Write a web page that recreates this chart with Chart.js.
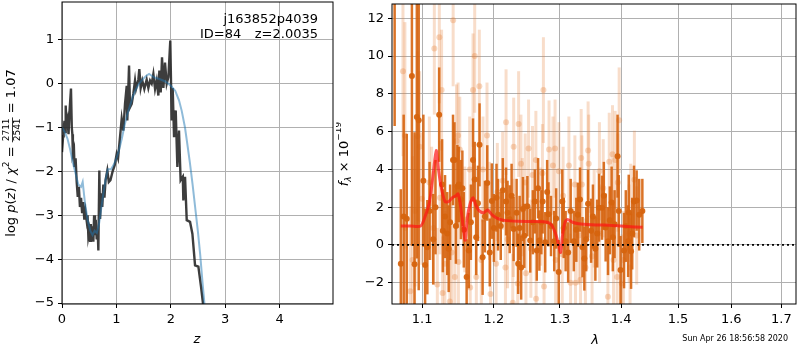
<!DOCTYPE html>
<html>
<head>
<meta charset="utf-8">
<script src="https://cdn.jsdelivr.net/npm/chart.js@4.4.0/dist/chart.umd.min.js"></script>
<style>
  body { margin: 0; background: #fff; }
  #wrap { position: relative; width: 800px; height: 350px; }
  canvas { position: absolute; top: 0; }
</style>
</head>
<body>
<div id="wrap">
  <canvas id="pzChart" width="336" height="350" style="left:0"></canvas>
  <canvas id="specChart" width="464" height="350" style="left:336px"></canvas>
</div>
<script>
// ---- left panel: log p(z) ----
const zTicks = [0, 1, 2, 3, 4];
const pzTicks = [-5, -4, -3, -2, -1, 0, 1];

const zFine = [0.00, 0.02, 0.03, 0.045, 0.06, 0.068, 0.08, 0.10, 0.12, 0.14, 0.165, 0.18, 0.19, 0.20, 0.22, 0.23, 0.25, 0.27, 0.29, 0.31,
  0.33, 0.35, 0.37, 0.39, 0.41, 0.43, 0.454, 0.47, 0.484, 0.50, 0.515, 0.53, 0.545, 0.56, 0.576, 0.59, 0.606, 0.62, 0.638, 0.655,
  0.668, 0.686, 0.70, 0.72, 0.74, 0.76, 0.78, 0.80, 0.833, 0.86, 0.89, 0.93, 0.97, 1.005, 1.03, 1.066, 1.097, 1.127, 1.158, 1.189,
  1.20, 1.232, 1.25, 1.281, 1.311, 1.342, 1.36, 1.403, 1.421, 1.446, 1.476, 1.513, 1.556, 1.587, 1.618, 1.648, 1.679, 1.71, 1.74, 1.771,
  1.789, 1.814, 1.838, 1.863, 1.893, 1.924, 1.955, 1.99, 2.016, 2.034, 2.059, 2.09, 2.12, 2.15, 2.18, 2.22, 2.23, 2.261, 2.292, 2.353,
  2.396, 2.445, 2.506, 2.555, 2.598, 2.68];
const pzFine = [-1.56, -1.2, -1.05, -0.85, -1.1, -0.5, -0.9, -0.8, -1.15, -0.6, -0.11, -1.0, -1.15, -1.6, -1.5, -1.9, -1.7, -2.24, -2.58, -2.35,
  -2.81, -2.6, -2.95, -2.7, -3.1, -2.9, -3.13, -3.0, -3.47, -3.35, -3.58, -3.2, -3.6, -3.25, -3.6, -3.0, -3.45, -3.1, -3.55, -3.3,
  -3.8, -1.98, -3.08, -2.5, -2.81, -2.3, -2.6, -2.2, -1.98, -2.24, -2.2, -2.0, -1.85, -1.6, -1.7, -1.22, -0.8, -1.07, -0.46, -0.05,
  -0.84, 0.41, -0.54, -0.46, -0.23, 0.07, -0.12, 0.09, 0.33, -0.1, 0.07, -0.12, 0.09, -0.1, 0.07, 0.0, 0.22, -0.12, 0.07, -0.27,
  0.3, -0.2, 0.6, -0.1, 0.48, 0.0, 0.15, 0.98, -0.84, -0.1, -1.22, -0.61, -1.9, -1.07, -2.2, -2.12, -2.66, -2.12, -3.11, -3.15,
  -3.42, -4.14, -4.17, -4.63, -5.08, -5.8];

const zSmooth = [0.00, 0.05, 0.10, 0.15, 0.20, 0.25, 0.30, 0.35, 0.38, 0.42, 0.47, 0.52, 0.56, 0.60, 0.64, 0.68, 0.72, 0.76, 0.80, 0.84,
  0.90, 0.95, 1.00, 1.05, 1.10, 1.15, 1.20, 1.25, 1.30, 1.35, 1.40, 1.45, 1.50, 1.55, 1.60, 1.65, 1.70, 1.80, 1.90, 2.00,
  2.08, 2.15, 2.20, 2.26, 2.30, 2.35, 2.40, 2.45, 2.50, 2.54, 2.58, 2.62, 2.66];
const pzSmooth = [-1.0, -1.1, -1.25, -1.5, -1.8, -2.05, -2.3, -2.35, -2.24, -2.7, -3.1, -3.35, -3.45, -3.35, -3.4, -3.2, -2.85, -2.5, -2.2, -1.95,
  -1.95, -1.85, -1.7, -1.5, -1.25, -0.95, -0.7, -0.5, -0.3, -0.15, -0.03, 0.05, 0.12, 0.18, 0.22, 0.18, 0.14, 0.1, 0.05, -0.05,
  -0.16, -0.38, -0.62, -1.0, -1.35, -1.8, -2.3, -2.85, -3.4, -3.9, -4.5, -5.05, -5.6];

// ---- right panel: spectrum ----
const waveTicks = [1.1, 1.2, 1.3, 1.4, 1.5, 1.6, 1.7];
const fluxTicks = [-2, 0, 2, 4, 6, 8, 10, 12];

const darkWave = [1.064, 1.0757, 1.072, 1.0797, 1.0865, 1.090, 1.093, 1.0955, 1.1017, 1.104, 1.107, 1.110, 1.123, 1.127, 1.128, 1.134, 1.136, 1.138,
  1.142, 1.144, 1.148, 1.150, 1.153, 1.157, 1.161, 1.164, 1.170, 1.1724, 1.1745, 1.1793, 1.1837, 1.1904, 1.194, 1.197, 1.2038, 1.206,
  1.213, 1.2178, 1.220, 1.2232, 1.229, 1.2335, 1.2358, 1.2403, 1.245, 1.2497, 1.254, 1.261, 1.266, 1.268, 1.273, 1.277, 1.282, 1.286,
  1.291, 1.298, 1.3037, 1.309, 1.317, 1.322, 1.3285, 1.336, 1.339, 1.345, 1.350, 1.357, 1.363, 1.368, 1.374, 1.378, 1.381, 1.384,
  1.389, 1.394, 1.399, 1.405, 1.412, 1.413, 1.417, 1.422, 1.4266, 1.431, 1.4365,
  1.115, 1.118, 1.131, 1.146, 1.155, 1.167, 1.177, 1.187, 1.200, 1.210, 1.226, 1.238, 1.243, 1.258, 1.264, 1.271, 1.280, 1.294,
  1.306, 1.313, 1.326, 1.332, 1.342, 1.353, 1.360, 1.371, 1.386, 1.396, 1.408, 1.419];
const darkFlux = [16.0, 1.5, -1.0, 1.38, 8.95, -1.03, 6.78, 6.6, 3.4, -1.07, -0.12, 1.8, 6.9, 3.2, 0.75, 0.6, -0.2, 1.2,
  4.5, 4.5, 3.1, 3.2, 2.4, 0.8, -1.7, -0.3, 4.5, 3.46, 0.4, 5.3, -0.65, 3.28, -0.4, 2.32, 2.5, 1.6,
  2.9, 2.3, 1.7, 1.36, 0.84, 1.7, -1.0, -1.2, 0.48, 2.05, 0.23, 2.3, 3.0, 0.23, 2.3, 0.14, 1.62, 1.0,
  0.2, -1.44, 2.3, 0.2, 1.8, 0.2, 1.6, -0.12, -0.72, 2.18, 0.75, -0.2, 1.97, 1.97, 0.92, 0.2, 1.3, 2.25,
  1.1, 4.7, -1.33, -0.3, 0.2, 1.72, -0.33, 2.3, 2.35, 1.6, 1.8,
  0.3, 2.0, 1.5, 1.0, 3.0, 1.2, 2.2, 1.5, 0.9, 1.0, 2.6, 0.9, 1.9, 1.2, -0.3, 1.2, 2.8, 1.4,
  0.9, -0.4, 0.8, 2.4, 0.3, 1.5, 0.6, 2.6, 0.4, 1.8, 1.0, 0.6];
const darkErr = [9.7, 5.4, 3.95, 4.5, 9.0, 7.0, 7.5, 9.0, 3.5, 3.0, 2.5, 2.6, 2.5, 2.4, 2.2, 2.2, 2.3, 2.0,
  2.4, 2.0, 2.2, 2.0, 2.1, 2.0, 2.0, 2.0, 2.2, 2.0, 2.0, 2.2, 2.0, 2.0, 1.8, 2.0, 1.8, 1.9,
  1.7, 1.8, 1.7, 1.8, 1.7, 1.8, 1.6, 1.7, 1.7, 1.6, 1.7, 1.7, 1.6, 1.6, 1.7, 1.6, 1.7, 1.6,
  1.6, 1.7, 1.7, 1.6, 1.7, 1.6, 1.7, 1.6, 1.7, 1.8, 1.7, 1.7, 1.8, 1.7, 1.8, 1.8, 1.8, 1.9,
  1.8, 2.2, 1.8, 2.0, 1.9, 2.0, 2.0, 1.9, 1.6, 1.9, 1.7,
  2.4, 2.5, 2.2, 2.0, 2.0, 2.0, 2.0, 1.9, 1.8, 1.8, 1.7, 1.7, 1.7, 1.7, 1.6, 1.7, 1.7, 1.6,
  1.6, 1.6, 1.7, 1.7, 1.7, 1.7, 1.8, 1.8, 1.8, 1.9, 1.9, 1.9];

const lightWave = [1.0748, 1.0773, 1.0778, 1.0843, 1.0873, 1.0908, 1.0938, 1.0967, 1.0996, 1.1097, 1.1128, 1.1151, 1.1164, 1.1205, 1.1232, 1.1241,
  1.1263, 1.1277, 1.1308, 1.1376, 1.14, 1.1422, 1.1445, 1.1468, 1.149, 1.1495, 1.1514, 1.1584, 1.1653, 1.166, 1.170, 1.1724,
  1.1747, 1.179, 1.1818, 1.1842, 1.19, 1.1937, 1.1951, 1.2032, 1.205, 1.2128, 1.2169, 1.2178, 1.22, 1.2277, 1.2286, 1.2291,
  1.2351, 1.2365, 1.24, 1.242, 1.2464, 1.2475, 1.2515, 1.255, 1.2575, 1.2626, 1.263, 1.27, 1.2727, 1.2742, 1.2752, 1.2829,
  1.289, 1.2923, 1.2932, 1.2984, 1.3036, 1.305, 1.3142, 1.3168, 1.3237, 1.3247, 1.33, 1.3328, 1.3339, 1.335, 1.3408, 1.3451,
  1.3461, 1.3516, 1.355, 1.3637, 1.364, 1.37, 1.3778, 1.38, 1.3855, 1.3872, 1.39, 1.3933, 1.3944, 1.3967, 1.4011, 1.404,
  1.4136, 1.4153, 1.4164, 1.4227, 1.4267];
const lightFlux = [9.2, 5.8, 0.9, -2.45, -0.8, 1.8, 5.75, 5.2, 2.45, 3.3, 2.2, 0.9, 10.4, -2.1, 11.0, 2.5,
  8.2, -2.55, -1.0, -3.0, -0.4, 11.9, -1.7, 5.5, 5.8, -0.9, 5.05, 1.35, 4.0, -2.25, 8.2, 10.0,
  -1.7, 8.4, -0.8, 4.0, 5.8, 1.8, -2.6, -1.0, 2.8, 3.4, -1.2, 6.5, 0.3, -3.07, 0.9, 5.2,
  -2.05, 6.4, 4.3, 2.0, 3.3, -1.5, 5.1, -0.2, 3.7, 4.5, -2.85, 1.5, 3.8, 8.2, -2.2, 5.05,
  4.2, 5.1, -0.8, 3.9, -0.5, 2.6, 4.2, -2.0, 3.2, -2.0, 0.5, -1.85, 4.6, 3.2, -1.2, 5.0,
  4.3, -0.6, 1.4, 3.9, 0.6, 3.0, -2.75, 4.4, 4.8, -0.8, 4.5, -1.7, 3.3, 6.6, -2.05, -0.8,
  0.6, -1.2, 1.7, 3.45, 0.5];
const lightErr = [4.5, 6.0, 5.0, 4.5, 5.5, 4.0, 4.5, 4.0, 3.5, 3.5, 3.0, 3.0, 3.5, 3.0, 3.5, 3.0,
  3.2, 3.0, 2.8, 2.8, 2.8, 3.5, 2.8, 3.0, 2.8, 2.8, 2.8, 2.8, 2.8, 2.8, 3.0, 3.0,
  2.8, 3.0, 2.8, 2.8, 2.8, 2.6, 2.6, 2.6, 2.6, 2.6, 2.6, 2.8, 2.6, 2.6, 2.6, 2.6,
  2.6, 2.8, 2.6, 2.6, 2.6, 2.6, 2.6, 2.6, 2.6, 2.6, 2.6, 2.6, 2.6, 2.8, 2.6, 2.6,
  2.6, 2.6, 2.6, 2.6, 2.6, 2.6, 2.6, 2.6, 2.6, 2.6, 2.6, 2.6, 2.6, 2.6, 2.6, 2.6,
  2.6, 2.6, 2.6, 2.6, 2.6, 2.6, 2.6, 2.6, 2.6, 2.6, 2.6, 2.6, 2.6, 2.8, 2.6, 2.6,
  2.6, 2.6, 2.6, 2.6, 2.6];

const modelWave = [1.072, 1.085, 1.098, 1.104, 1.11, 1.115, 1.119, 1.122, 1.126, 1.131, 1.136, 1.141, 1.146, 1.149, 1.152, 1.156, 1.159, 1.162,
  1.166, 1.17, 1.174, 1.179, 1.185, 1.191, 1.197, 1.205, 1.215, 1.235, 1.26, 1.28, 1.287, 1.293, 1.298, 1.301, 1.304, 1.308,
  1.312, 1.32, 1.33, 1.35, 1.37, 1.39, 1.41, 1.437];
const modelFlux = [1.0, 1.0, 1.0, 1.5, 2.3, 3.8, 5.0, 4.0, 3.0, 2.3, 2.3, 2.5, 2.6, 2.7, 2.2, 1.0, 0.25, 1.45,
  2.2, 2.5, 2.1, 1.8, 1.7, 1.85, 1.6, 1.4, 1.3, 1.25, 1.24, 1.2, 1.05, 0.6, 0.0, -0.4, 0.5, 1.2,
  1.35, 1.2, 1.12, 1.07, 1.05, 1.02, 0.98, 0.93];

const waveMin = 1.0606, waveMax = 1.7305;

Chart.defaults.font.family = '"DejaVu Sans", sans-serif';
Chart.defaults.font.size = 13;
Chart.defaults.color = '#000';

const toPoints = (xs, ys) => xs.map((x, i) => ({ x: x, y: ys[i] }));
const minus = v => String(v).replace('-', '\u2212');

// vertical error bars, drawn just before each dataset's markers
const errorBars = {
  id: 'errorBars',
  beforeDatasetDraw(chart, args) {
    const ds = chart.data.datasets[args.index];
    if (!ds.errs) return;
    const { ctx, chartArea: a, scales: { x, y } } = chart;
    ctx.save();
    ctx.beginPath();
    ctx.rect(a.left, a.top, a.right - a.left, a.bottom - a.top);
    ctx.clip();
    ctx.strokeStyle = ds.errColor;
    ctx.lineWidth = ds.errWidth;
    ds.data.forEach((p, i) => {
      const px = x.getPixelForValue(p.x);
      ctx.beginPath();
      ctx.moveTo(px, y.getPixelForValue(p.y - ds.errs[i]));
      ctx.lineTo(px, y.getPixelForValue(p.y + ds.errs[i]));
      ctx.stroke();
    });
    ctx.restore();
  }
};

const frame = {
  id: 'frame',
  afterDraw(chart) {
    const { ctx, chartArea: a } = chart;
    ctx.save();
    ctx.strokeStyle = '#000';
    ctx.lineWidth = 1;
    ctx.strokeRect(a.left, a.top, a.right - a.left, a.bottom - a.top);
    ctx.restore();
  }
};

// draw a row of mixed-style text pieces centred on (cx, cy)
function drawPieces(ctx, pieces, cx, cy, rotate) {
  ctx.save();
  ctx.translate(cx, cy);
  if (rotate) ctx.rotate(-Math.PI / 2);
  ctx.fillStyle = '#000';
  ctx.textBaseline = 'middle';
  let total = 0;
  pieces.forEach(p => {
    ctx.font = p.font;
    p.w = p.frac ? Math.max(ctx.measureText(p.frac[0]).width, ctx.measureText(p.frac[1]).width) + 2
                 : ctx.measureText(p.text).width;
    total += p.w;
  });
  let xx = -total / 2;
  pieces.forEach(p => {
    ctx.font = p.font;
    if (p.frac) {
      ctx.textAlign = 'center';
      ctx.fillText(p.frac[0], xx + p.w / 2, -5);
      ctx.fillText(p.frac[1], xx + p.w / 2, 5.5);
      ctx.fillRect(xx, 0, p.w, 0.8);
    } else {
      ctx.textAlign = 'left';
      ctx.fillText(p.text, xx, p.dy || 0);
    }
    xx += p.w;
  });
  ctx.restore();
}

const F = '13px "DejaVu Sans"';
const FI = 'italic 13px "DejaVu Sans"';
const FS = '9px "DejaVu Sans"';

const pzLabels = {
  id: 'pzLabels',
  afterDraw(chart) {
    const ctx = chart.ctx;
    drawPieces(ctx, [
      { text: 'log ', font: F }, { text: 'p', font: FI }, { text: '(', font: F }, { text: 'z', font: FI },
      { text: ') / ', font: F }, { text: '\u03c7', font: FI }, { text: '2', font: FS, dy: -5 },
      { text: ' = ', font: F }, { frac: ['2711', '2541'], font: FS }, { text: ' = 1.07', font: F }
    ], 12, 153, true);
    drawPieces(ctx, [{ text: 'z', font: FI }], 197, 340, false);
    ctx.save();
    ctx.font = F;
    ctx.textBaseline = 'middle';
    ctx.textAlign = 'right';
    ctx.fillText('j163852p4039', 318, 20);
    ctx.fillText('z=2.0035', 318, 35);
    ctx.textAlign = 'left';
    ctx.fillText('ID=84', 200, 35);
    ctx.restore();
  }
};

const specLabels = {
  id: 'specLabels',
  afterDraw(chart) {
    const ctx = chart.ctx;
    drawPieces(ctx, [
      { text: 'f', font: FI }, { text: '\u03bb', font: 'italic 9px "DejaVu Sans"', dy: 4 },
      { text: ' \u00d7 10', font: F }, { text: '\u221219', font: FS, dy: -6 }
    ], 9, 154, true);
    drawPieces(ctx, [{ text: '\u03bb', font: FI }], 259, 341, false);
    ctx.save();
    ctx.font = '8px "DejaVu Sans"';
    ctx.textBaseline = 'middle';
    ctx.textAlign = 'right';
    ctx.fillText('Sun Apr 26 18:56:58 2020', 452, 339);
    ctx.restore();
  }
};

function axisOpts(extra, ticks, fmt, size) {
  return Object.assign({
    afterBuildTicks: s => { s.ticks = ticks.map(v => ({ value: v })); },
    afterFit: s => {
      if (s.isHorizontal()) { s.height = size; s.paddingLeft = 0; s.paddingRight = 0; }
      else { s.width = size; s.paddingTop = 0; s.paddingBottom = 0; }
    },
    grid: { color: '#b0b0b0', lineWidth: 1, tickColor: '#000', tickLength: 4 },
    border: { display: false },
    ticks: { callback: fmt, padding: 4, autoSkip: false, maxRotation: 0, color: '#000' }
  }, extra);
}

const commonOpts = {
  responsive: false,
  animation: false,
  devicePixelRatio: 1,
  plugins: { legend: { display: false }, tooltip: { enabled: false } }
};

new Chart(document.getElementById('pzChart'), {
  type: 'scatter',
  data: {
    datasets: [
      { data: toPoints(zSmooth, pzSmooth), showLine: true, pointRadius: 0, borderColor: 'rgba(31,119,180,0.5)',
        borderWidth: 2, clip: 0, order: 0 },
      { data: toPoints(zFine, pzFine), showLine: true, pointRadius: 0, borderColor: 'rgba(40,40,40,0.9)',
        borderWidth: 2.4, clip: 0, order: 1 }
    ]
  },
  options: Object.assign({}, commonOpts, {
    layout: { padding: { top: 2, right: 3, left: 0, bottom: 0 } },
    scales: {
      x: axisOpts({ type: 'linear', min: 0, max: 4.98 }, zTicks, v => minus(v), 46),
      y: axisOpts({ type: 'linear', min: -5.02, max: 1.86 }, pzTicks, v => minus(v), 62)
    }
  }),
  plugins: [frame, pzLabels]
});

new Chart(document.getElementById('specChart'), {
  type: 'scatter',
  data: {
    datasets: [
      { data: [{ x: waveMin, y: 0 }, { x: waveMax, y: 0 }], showLine: true, pointRadius: 0, borderColor: '#000',
        borderWidth: 1.8, borderDash: [2, 3], clip: 0, order: 0 },
      { data: toPoints(modelWave, modelFlux), showLine: true, pointRadius: 0, borderColor: 'rgba(255,20,20,0.7)',
        borderWidth: 3, tension: 0.25, clip: 0, order: 1 },
      { data: toPoints(darkWave, darkFlux), errs: darkErr, errColor: 'rgba(214,100,15,0.9)', errWidth: 2.5,
        pointRadius: 3, pointBorderWidth: 0, pointBackgroundColor: 'rgba(214,100,15,0.95)', clip: 0, order: 2 },
      { data: toPoints(lightWave, lightFlux), errs: lightErr, errColor: 'rgba(230,130,60,0.27)', errWidth: 3,
        pointRadius: 3, pointBorderWidth: 0, pointBackgroundColor: 'rgba(230,130,60,0.32)', clip: 0, order: 3 }
    ]
  },
  options: Object.assign({}, commonOpts, {
    layout: { padding: { top: 2, right: 1, left: 0, bottom: 0 } },
    scales: {
      x: axisOpts({ type: 'logarithmic', min: waveMin, max: waveMax }, waveTicks, v => Number(v).toFixed(1), 46),
      y: axisOpts({ type: 'linear', min: -3.13, max: 12.76 }, fluxTicks, v => minus(v), 56)
    }
  }),
  plugins: [errorBars, frame, specLabels]
});
</script>
</body>
</html>
